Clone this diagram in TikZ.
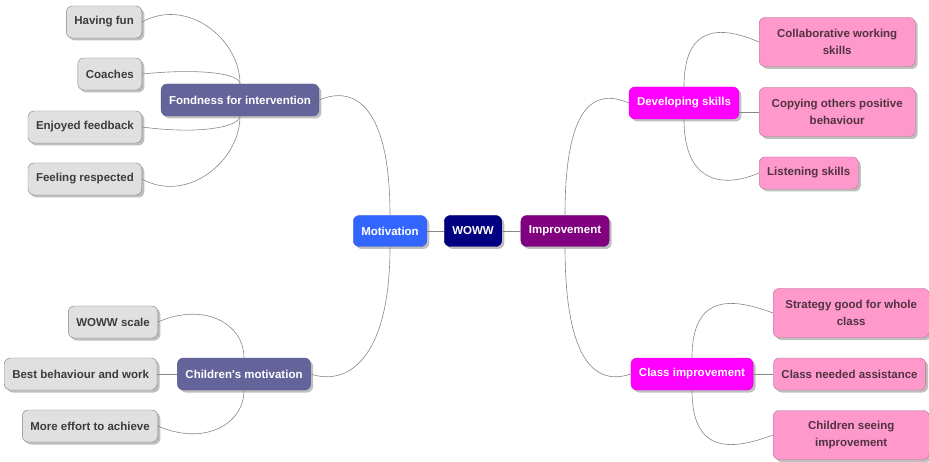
\documentclass[tikz,border=0pt]{standalone}
\usepackage{fontspec}
\usepackage{tikz}
\usetikzlibrary{positioning,shadows}
\newfontfamily\mapfont{Liberation Sans}

\definecolor{leafgray}{RGB}{224,224,224}
\definecolor{leafline}{RGB}{130,130,130}
\definecolor{leaftext}{RGB}{60,60,60}
\definecolor{slate}{RGB}{100,100,155}
\definecolor{motblue}{RGB}{51,102,255}
\definecolor{navy}{RGB}{0,0,128}
\definecolor{purp}{RGB}{128,0,128}
\definecolor{magen}{RGB}{255,0,255}
\definecolor{pink}{RGB}{255,153,204}
\definecolor{pinkline}{RGB}{175,115,145}
\definecolor{pinktext}{RGB}{80,50,65}
\definecolor{link}{RGB}{135,135,135}

\begin{document}
\begin{tikzpicture}[
    x=1pt, y=-1pt,
    box/.style={rectangle, rounded corners=6pt, inner xsep=8pt, inner ysep=3pt, minimum height=32pt,
      font=\mapfont\bfseries\fontsize{11.5}{17}\selectfont,
      drop shadow={shadow xshift=2.5pt, shadow yshift=-2.5pt, opacity=0.25, fill=black}},
    graynode/.style={box, draw=leafline, fill=leafgray, text=leaftext},
    topicnode/.style={box, draw=slate!85!black, fill=slate, text=white},
    rootnode/.style={box, draw=#1!85!black, fill=#1, text=white, minimum height=31pt},
    skillnode/.style={box, draw=magen!85!black, fill=magen, text=white},
    pinknode/.style={box, draw=pinkline, fill=pink, text=pinktext},
    twoline/.style={align=center, minimum width=156pt, minimum height=49pt},
    link/.style={draw=link, line width=0.6pt}
   ]
   \useasboundingbox (0,0) rectangle (929,462);

   % centre
   \node[rootnode=navy]     (woww)        at (473,231) {WOWW};
   \node[rootnode=motblue]  (motivation)  at (390,231) {Motivation};
   \node[rootnode=purp]     (improvement) at (565,231) {Improvement};

   % left side
   \node[topicnode] (fondness) at (240,100) {Fondness for intervention};
   \node[graynode, anchor=east] (havingfun) at (142,22)  {Having fun};
   \node[graynode, anchor=east] (coaches)   at (142,74)  {Coaches};
   \node[graynode, anchor=east] (feedback)  at (142,127) {Enjoyed feedback};
   \node[graynode, anchor=east] (respected) at (142,179) {Feeling respected};

   \node[topicnode] (childmot) at (244,374) {Children's motivation};
   \node[graynode, anchor=east] (wowwscale) at (158,322) {WOWW scale};
   \node[graynode] (bestwork) [left=20pt of childmot] {Best behaviour and work};
   \node[graynode, anchor=east] (effort)    at (158,426) {More effort to achieve};

   % right side
   \node[skillnode] (devskills) at (684,103) {Developing skills};
   \node[pinknode, twoline, anchor=west] (collab)    at (759,42)  {Collaborative working\\skills};
   \node[pinknode, twoline, anchor=west] (copying)   at (759,112) {Copying others positive\\behaviour};
   \node[pinknode, anchor=west]          (listening) at (759,173) {Listening skills};

   \node[skillnode] (classimp) at (692,374) {Class improvement};
   \node[pinknode, twoline, anchor=west] (strategy) at (773,313) {Strategy good for whole\\class};
   \node[pinknode] (assist) [right=20pt of classimp] {Class needed assistance};
   \node[pinknode, twoline, anchor=west] (seeing)   at (773,435) {Children seeing\\improvement};

  \draw[link] (motivation.east) -- (woww.west);
  \draw[link] (woww.east) -- (improvement.west);
  \draw[link] (motivation.north) .. controls +(0,-110) and +(35,-15) .. (fondness.east);
  \draw[link] (motivation.south) .. controls +(0,115) and +(35,12) .. (childmot.east);
  \draw[link] (improvement.north) .. controls +(0,-110) and +(-35,-15) .. (devskills.west);
  \draw[link] (improvement.south) .. controls +(0,115) and +(-35,12) .. (classimp.west);

  \draw[link] (havingfun.east) .. controls +(45,-25) and +(0,-45) .. (fondness.north);
  \draw[link] (coaches.east) .. controls +(60,-6) and +(0,-10) .. (fondness.north);
  \draw[link] (feedback.east) .. controls +(60,8) and +(0,10) .. (fondness.south);
  \draw[link] (respected.east) .. controls +(45,25) and +(0,45) .. (fondness.south);

  \draw[link] (wowwscale.east) .. controls +(45,-20) and +(0,-35) .. (childmot.north);
  \draw[link] (bestwork.east) -- (childmot.west);
  \draw[link] (effort.east) .. controls +(45,20) and +(0,35) .. (childmot.south);

  \draw[link] (devskills.north) .. controls +(0,-65) and +(-35,-15) .. (collab.west);
  \draw[link] (copying.west) -- (copying.west -| devskills.east);
  \draw[link] (devskills.south) .. controls +(0,65) and +(-35,15) .. (listening.west);

  \draw[link] (classimp.north) .. controls +(0,-65) and +(-40,-15) .. (strategy.west);
  \draw[link] (classimp.east) -- (assist.west);
  \draw[link] (classimp.south) .. controls +(0,65) and +(-40,15) .. (seeing.west);
 \end{tikzpicture}
\end{document}
